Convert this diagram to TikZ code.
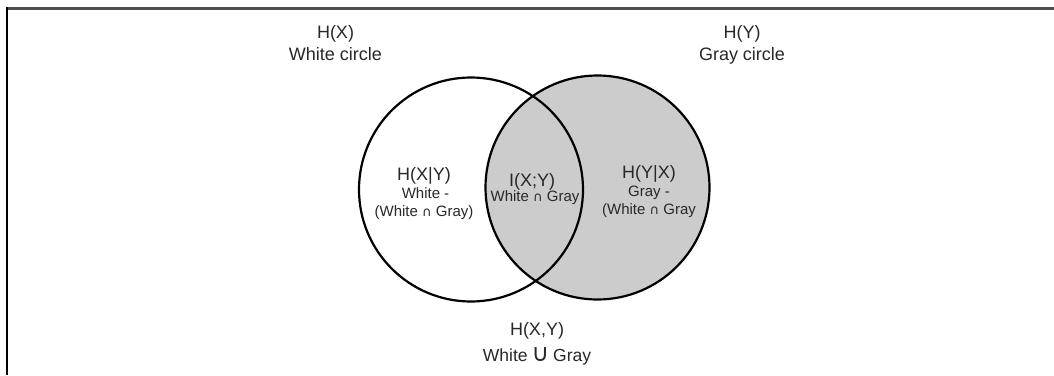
\documentclass[tikz,border=0pt]{standalone}
\usepackage{fontspec}
\setmainfont{Liberation Sans}
\newfontfamily\symfont{DejaVu Sans}
\newcommand{\capsym}{{\symfont\fontsize{13}{15}\selectfont ∩}}
\definecolor{txt}{RGB}{40,40,40}
\definecolor{fillgray}{RGB}{204,204,204}
\definecolor{framegray}{RGB}{77,77,77}
\begin{document}
\begin{tikzpicture}[x=1pt,y=-1pt,
  venn/.style={circle, draw=black, line width=2.2pt, minimum size=224pt, inner sep=0pt},
  head/.style={anchor=base, inner sep=0pt, text=txt, font=\fontsize{18}{20}\selectfont},
  sub/.style={anchor=base, inner sep=0pt, text=txt, font=\fontsize{15}{17}\selectfont},
  big/.style={anchor=base, inner sep=0pt, text=txt, font=\fontsize{17.5}{20}\selectfont}]
\useasboundingbox (0,0) rectangle (1054,375);
\fill[white] (0,0) rectangle (1054,375);
% frame
\draw[framegray, line width=2.7pt] (6,8.7) -- (1054,8.7);
\draw[black, line width=2pt] (6.7,7.3) -- (6.7,375);
% circles
\node[venn, fill=fillgray] (G) at (597.5,187.5) {};
\node[venn] (W) at (471,189.5) {};
% outer labels
\node[head] (hx) at (335.5,38.3) {H(X)};
\node[head] (wc) at (335.5,60) {White circle};
\node[head] (hy) at (742,38.3) {H(Y)};
\node[head] (gc) at (742,60) {Gray circle};
% left region
\node[head] (hxy) at (424,180.7) {H(X|Y)};
\node[sub] (l1) at (425.5,198.3) {White -};
\node[sub] (l2) at (424,216) {(White \capsym{} Gray)};
% middle region
\node[head] (ixy) at (532,186) {I(X;Y)};
\node[sub] (m1) at (535,201.7) {White \capsym{} Gray};
% right region
\node[head] (hyx) at (649,178.3) {H(Y|X)};
\node[sub] (r1) at (649,196.7) {Gray -};
\node[sub] (r2) at (649,214.3) {(White \capsym{} Gray};
% joint
\node[head] (hj) at (537,335) {H(X,Y)};
\node[big] (j1) at (537,361) {White\hspace{4pt}{\symfont\fontsize{24}{26}\selectfont ∪}\hspace{4pt}Gray};
\end{tikzpicture}
\end{document}
